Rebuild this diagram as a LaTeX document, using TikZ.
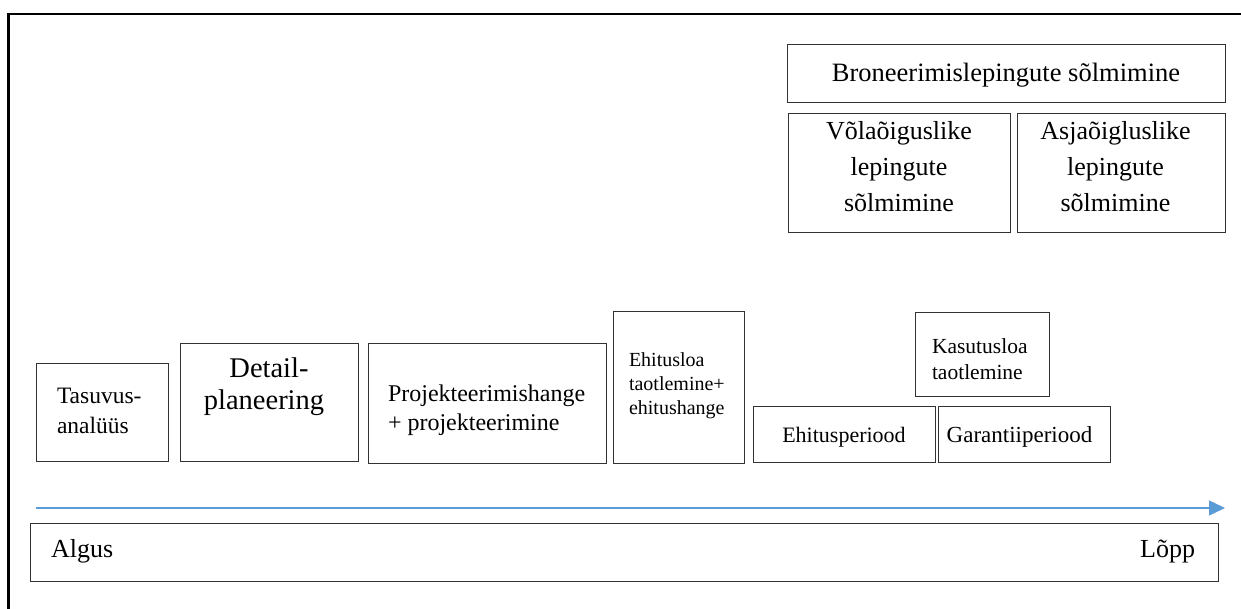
\documentclass[tikz,border=0pt]{standalone}
\usepackage{fontspec}
\setmainfont{Liberation Serif}
\usetikzlibrary{arrows.meta}
\definecolor{arrowblue}{RGB}{91,155,213}
\newcommand\myfs[1]{\fontsize{#1pt}{#1pt}\selectfont}
\begin{document}
\begin{tikzpicture}[x=1pt,y=-1pt,
  box/.style={draw=black!80, line width=1pt, inner sep=0pt, outer sep=0pt},
  txt/.style={inner sep=0pt, outer sep=0pt, text=black}]
\useasboundingbox (0,0) rectangle (1241,609);
% outer frame (left and top edges)
\draw[line width=2.5pt, black] (8.5,609) -- (8.5,14) -- (1241,14);
% boxes
\node[box, minimum width=132pt, minimum height=98pt] (tas) at (102,412) {};
\node[box, minimum width=178pt, minimum height=118pt] (det) at (269,402) {};
\node[box, minimum width=238pt, minimum height=120pt] (proj) at (487,403) {};
\node[box, minimum width=131pt, minimum height=151pt] (ehl) at (678.5,387.5) {};
\node[box, minimum width=182pt, minimum height=56pt] (ehp) at (844,434) {};
\node[box, minimum width=172pt, minimum height=56pt] (gar) at (1024,434) {};
\node[box, minimum width=134pt, minimum height=83pt] (kas) at (982,354.5) {};
\node[box, minimum width=438pt, minimum height=58pt] (bron) at (1006,74) {};
\node[box, minimum width=222pt, minimum height=119pt] (vola) at (899,173.5) {};
\node[box, minimum width=208pt, minimum height=119pt] (asja) at (1121,173.5) {};
\node[box, minimum width=1188pt, minimum height=58pt] (time) at (624,552) {};
% time arrow
\coordinate (arrS) at (36,508);
\coordinate (arrE) at (1225,508);
\draw[arrowblue, line width=1.5pt, -{Triangle[length=16pt,width=15pt]}] (arrS) -- (arrE);
% texts
\node[txt, anchor=base west, font=\myfs{23.5}] (tas1) at (57,403) {Tasuvus-};
\node[txt, anchor=base west, font=\myfs{23.5}] (tas2) at (57,433) {analüüs};
\node[txt, anchor=base, font=\myfs{28.5}] (det1) at (269,377) {Detail-};
\node[txt, anchor=base, font=\myfs{28.5}] (det2) at (264,409) {planeering};
\node[txt, anchor=base west, font=\myfs{24}] (proj1) at (388,401) {Projekteerimishange};
\node[txt, anchor=base west, font=\myfs{24}] (proj2) at (388,430) {+ projekteerimine};
\node[txt, anchor=base west, font=\myfs{20}] (ehl1) at (629,366) {Ehitusloa};
\node[txt, anchor=base west, font=\myfs{20}] (ehl2) at (629,390) {taotlemine+};
\node[txt, anchor=base west, font=\myfs{20}] (ehl3) at (629,414) {ehitushange};
\node[txt, anchor=base west, font=\myfs{21.5}] (kas1) at (932,353) {Kasutusloa};
\node[txt, anchor=base west, font=\myfs{21.5}] (kas2) at (932,379) {taotlemine};
\node[txt, anchor=base, font=\myfs{22}] (ehp1) at (844,442) {Ehitusperiood};
\node[txt, anchor=base, font=\myfs{23}] (gar1) at (1019.5,442) {Garantiiperiood};
\node[txt, anchor=base, font=\myfs{26.5}] (bron1) at (1006,82) {Broneerimislepingute sõlmimine};
\node[txt, anchor=base, font=\myfs{26}] (vola1) at (899,140) {Võlaõiguslike};
\node[txt, anchor=base, font=\myfs{26}] (vola2) at (899,176) {lepingute};
\node[txt, anchor=base, font=\myfs{26}] (vola3) at (899,212) {sõlmimine};
\node[txt, anchor=base, font=\myfs{26}] (asja1) at (1115.5,140) {Asjaõigluslike};
\node[txt, anchor=base, font=\myfs{26}] (asja2) at (1115.5,176) {lepingute};
\node[txt, anchor=base, font=\myfs{26}] (asja3) at (1115.5,212) {sõlmimine};
\node[txt, anchor=base west, font=\myfs{26}] (alg) at (51,557) {Algus};
\node[txt, anchor=base east, font=\myfs{26}] (lopp) at (1195,557) {Lõpp};
\end{tikzpicture}
\end{document}
